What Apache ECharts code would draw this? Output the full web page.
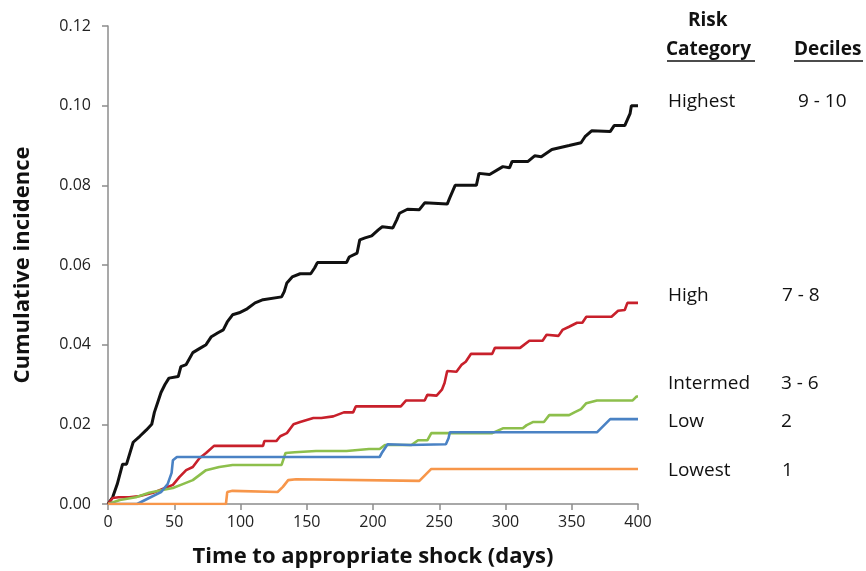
<!DOCTYPE html>
<html>
<head>
<meta charset="utf-8">
<script src="https://cdn.jsdelivr.net/npm/echarts@6/dist/echarts.min.js"></script>
<style>
html,body{margin:0;padding:0;background:#fff;}
#chart{width:866px;height:571px;}
</style>
</head>
<body>
<div id="chart"></div>
<script>
(function(){

// x ticks (days) and y ticks (cumulative incidence)
var xTicks = [0, 50, 100, 150, 200, 250, 300, 350, 400];
var yTicks = [0, 0.02, 0.04, 0.06, 0.08, 0.10, 0.12];

// [day, cumulative incidence]
var highest = [[0,0],[3.5,0.0017],[7,0.005],[11,0.010],[14,0.010],[19,0.0155],[24,0.017],[29,0.0186],[33,0.020],[35,0.023],[38,0.026],[40,0.028],[43,0.030],[46,0.0316],[53,0.032],[55,0.0345],[59,0.035],[64,0.038],[69,0.039],[74,0.040],[78,0.042],[83,0.043],[87,0.0437],[90,0.0457],[94,0.0475],[99,0.048],[105,0.049],[111,0.0505],[117,0.0513],[131,0.052],[133,0.0533],[135,0.0555],[139,0.057],[145,0.0578],[153,0.0578],[156,0.0593],[158,0.0606],[180,0.0606],[182,0.062],[188,0.063],[190,0.0663],[194,0.0668],[199,0.0673],[204,0.0688],[207,0.0696],[215,0.0693],[218,0.0714],[220,0.073],[226,0.074],[235,0.0739],[239,0.0756],[256,0.0753],[258,0.0769],[262,0.080],[278,0.080],[280,0.083],[288,0.0827],[298,0.0847],[303,0.0844],[305,0.086],[317,0.086],[322,0.0874],[327,0.0872],[335,0.089],[348,0.090],[357,0.0907],[360,0.0922],[365,0.0937],[379,0.0935],[382,0.095],[390,0.095],[394,0.098],[395,0.100],[400,0.100]];

var high = [[0,0],[3.5,0.0015],[8,0.0017],[16,0.0017],[24,0.002],[34,0.0028],[43,0.004],[49,0.0048],[54,0.0068],[59,0.0085],[64,0.0093],[69,0.0115],[74,0.0128],[80,0.0146],[117,0.0146],[118,0.0158],[127,0.0158],[130,0.017],[135,0.0178],[140,0.020],[145,0.0206],[155,0.0216],[161,0.0216],[170,0.022],[178,0.023],[185,0.023],[187,0.0245],[221,0.0245],[225,0.026],[239,0.026],[241,0.0274],[248,0.0272],[252,0.0287],[254,0.0304],[256,0.0334],[263,0.0332],[267,0.035],[270,0.0357],[274,0.0377],[290,0.0377],[292,0.0392],[311,0.0392],[318,0.041],[328,0.041],[331,0.0425],[340,0.0422],[343,0.0437],[348,0.0445],[354,0.0455],[358,0.0455],[361,0.047],[380,0.047],[385,0.0485],[390,0.0487],[392,0.0505],[400,0.0505]];

var intermed = [[0,0],[9,0.001],[21,0.0017],[31,0.0028],[41,0.0035],[49,0.004],[55,0.0048],[64,0.006],[74,0.0085],[84,0.0093],[94,0.0098],[131,0.0098],[134,0.0128],[141,0.013],[157,0.0133],[180,0.0133],[197,0.0138],[205,0.0138],[209,0.0148],[229,0.0148],[234,0.016],[241,0.016],[244,0.0178],[290,0.0178],[298,0.019],[313,0.019],[316,0.0198],[321,0.0206],[329,0.0206],[333,0.0223],[348,0.0223],[352,0.023],[357,0.0238],[361,0.0253],[369,0.026],[396,0.026],[399,0.027],[400,0.027]];

var low = [[0,0],[22,0],[31,0.0015],[40,0.003],[45,0.005],[48,0.0078],[49,0.011],[52,0.0118],[69,0.0118],[205,0.0118],[207,0.013],[211,0.015],[228,0.0148],[255,0.015],[257,0.0165],[258,0.018],[369,0.018],[379,0.0213],[400,0.0213]];

var lowest = [[0,0],[89,0],[90,0.003],[94,0.0033],[128,0.003],[132,0.0043],[136,0.006],[142,0.0062],[235,0.0058],[244,0.0088],[400,0.0088]];

var colors = ['#111111', '#c8202b', '#8dbf4c', '#4a82c4', '#f7964a'];

var chart = echarts.init(document.getElementById('chart'));

var font = '"Open Sans", "Noto Sans", sans-serif';

function mkSeries(name, data, color, width){
    return {
        name: name,
        type: 'line',
        data: data,
        symbol: 'none',
        smooth: false,
        lineStyle: {color: color, width: width},
        itemStyle: {color: color},
        z: 3
    };
}

function txt(x, y, s, bold, align){
    return {
        type: 'text',
        left: x, top: y,
        style: {
            text: s,
            font: (bold ? 'bold ' : '') + '19px ' + font,
            fill: '#111',
            textAlign: align || 'left'
        }
    };
}

function uline(x1, x2, y){
    return {
        type: 'line',
        shape: {x1: x1, y1: y, x2: x2, y2: y},
        style: {stroke: '#111', lineWidth: 1.5}
    };
}

var option = {
    animation: false,
    backgroundColor: '#fff',
    grid: {
        left: 108,
        right: 228,
        top: 26,
        bottom: 67,
        outerBoundsMode: 'none'
    },
    xAxis: {
        type: 'value',
        min: xTicks[0],
        max: xTicks[xTicks.length - 1],
        interval: 50,
        name: 'Time to appropriate shock (days)',
        nameLocation: 'middle',
        nameGap: 42,
        nameTextStyle: {fontFamily: font, fontWeight: 'bold', fontSize: 22, color: '#111'},
        axisLine: {show: true, lineStyle: {color: '#8c8c8c', width: 1.5}},
        axisTick: {show: true, length: 6, lineStyle: {color: '#8c8c8c', width: 1.5}},
        axisLabel: {fontFamily: font, fontSize: 16, color: '#222', margin: 10},
        splitLine: {show: false}
    },
    yAxis: {
        type: 'value',
        min: yTicks[0],
        max: yTicks[yTicks.length - 1],
        interval: 0.02,
        name: 'Cumulative incidence',
        nameLocation: 'middle',
        nameGap: 74,
        nameTextStyle: {fontFamily: font, fontWeight: 'bold', fontSize: 22, color: '#111'},
        axisLine: {show: true, lineStyle: {color: '#8c8c8c', width: 1.5}},
        axisTick: {show: true, length: 6, lineStyle: {color: '#8c8c8c', width: 1.5}},
        axisLabel: {
            fontFamily: font, fontSize: 16, color: '#222', margin: 17,
            formatter: function(v){ return v.toFixed(2); }
        },
        splitLine: {show: false}
    },
    series: [
        mkSeries('Highest', highest, colors[0], 3),
        mkSeries('High', high, colors[1], 2.6),
        mkSeries('Intermed', intermed, colors[2], 2.6),
        mkSeries('Low', low, colors[3], 2.6),
        mkSeries('Lowest', lowest, colors[4], 2.6)
    ],
    graphic: [
        txt(688, 11, 'Risk', true),
        txt(666, 40, 'Category', true),
        uline(667, 755, 61),
        txt(794, 40, 'Deciles', true),
        uline(794, 863, 61),
        txt(668, 92, 'Highest'),
        txt(798, 92, '9 - 10'),
        txt(668, 286, 'High'),
        txt(782, 286, '7 - 8'),
        txt(668, 374, 'Intermed'),
        txt(781, 374, '3 - 6'),
        txt(668, 412, 'Low'),
        txt(781, 412, '2'),
        txt(668, 461, 'Lowest'),
        txt(782, 461, '1')
    ]
};

chart.setOption(option);

})();
</script>
</body>
</html>
